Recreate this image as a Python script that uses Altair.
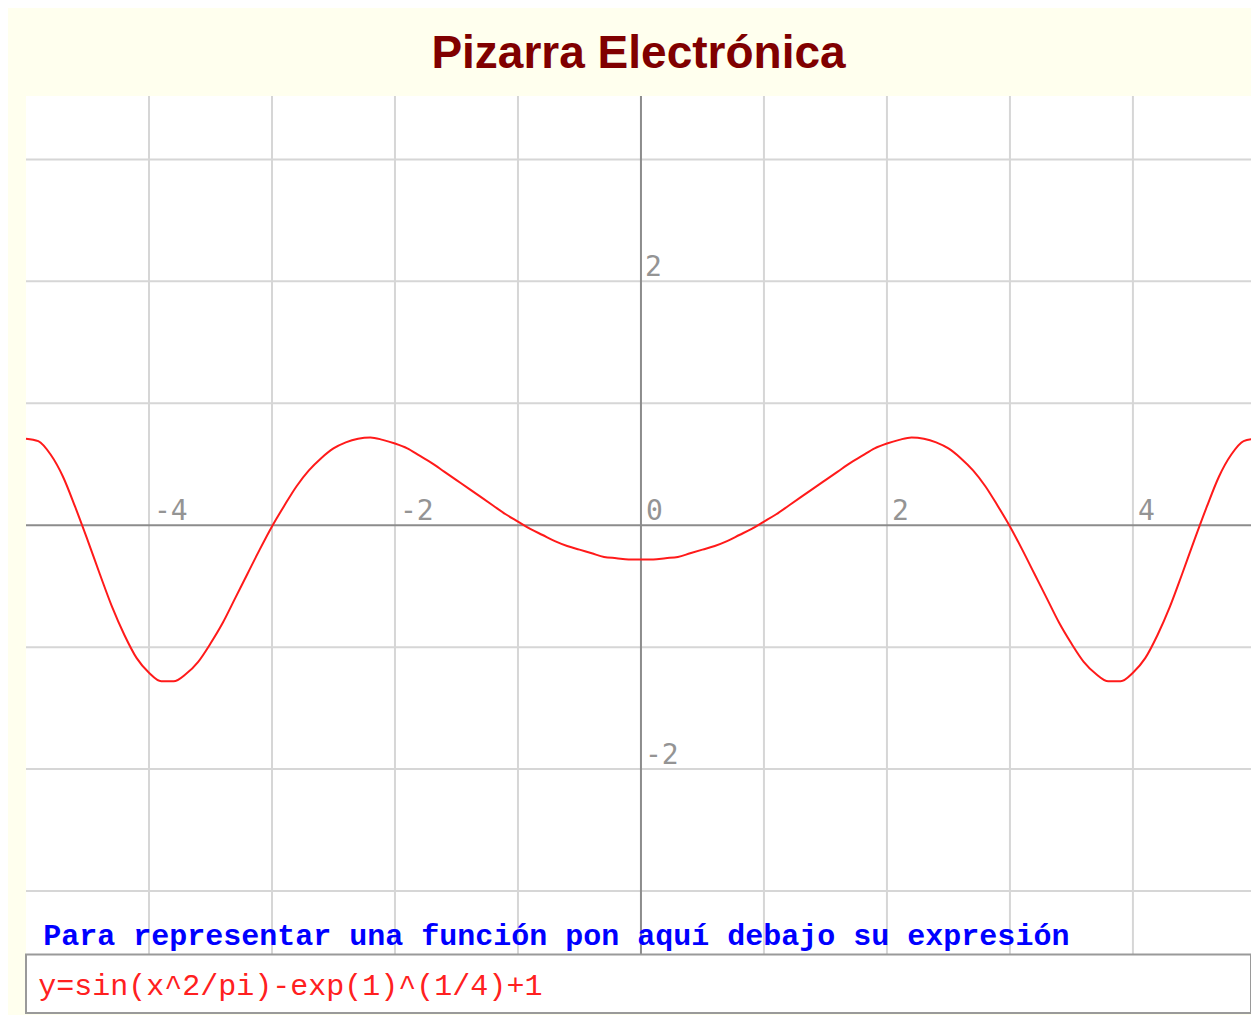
import altair as alt
import pandas as pd

# Curve samples (x from -5 to 5 in steps of 0.1)
x_vals = [-5.0, -4.9, -4.8, -4.7, -4.6, -4.5, -4.4, -4.3, -4.2, -4.1,
          -4.0, -3.9, -3.8, -3.7, -3.6, -3.5, -3.4, -3.3, -3.2, -3.1,
          -3.0, -2.9, -2.8, -2.7, -2.6, -2.5, -2.4, -2.3, -2.2, -2.1,
          -2.0, -1.9, -1.8, -1.7, -1.6, -1.5, -1.4, -1.3, -1.2, -1.1,
          -1.0, -0.9, -0.8, -0.7, -0.6, -0.5, -0.4, -0.3, -0.2, -0.1,
          0.0,
          0.1, 0.2, 0.3, 0.4, 0.5, 0.6, 0.7, 0.8, 0.9, 1.0,
          1.1, 1.2, 1.3, 1.4, 1.5, 1.6, 1.7, 1.8, 1.9, 2.0,
          2.1, 2.2, 2.3, 2.4, 2.5, 2.6, 2.7, 2.8, 2.9, 3.0,
          3.1, 3.2, 3.3, 3.4, 3.5, 3.6, 3.7, 3.8, 3.9, 4.0,
          4.1, 4.2, 4.3, 4.4, 4.5, 4.6, 4.7, 4.8, 4.9, 5.0]
y_vals = [0.71, 0.69, 0.58, 0.40, 0.15, -0.12, -0.40, -0.67, -0.90, -1.09,
          -1.21, -1.28, -1.28, -1.22, -1.12, -0.97, -0.80, -0.60, -0.40, -0.20,
          -0.01, 0.16, 0.32, 0.45, 0.55, 0.63, 0.68, 0.71, 0.72, 0.70,
          0.67, 0.63, 0.57, 0.51, 0.44, 0.37, 0.30, 0.23, 0.16, 0.09,
          0.03, -0.03, -0.08, -0.13, -0.17, -0.20, -0.23, -0.26, -0.27, -0.28,
          -0.28,
          -0.28, -0.27, -0.26, -0.23, -0.20, -0.17, -0.13, -0.08, -0.03, 0.03,
          0.09, 0.16, 0.23, 0.30, 0.37, 0.44, 0.51, 0.57, 0.63, 0.67,
          0.70, 0.72, 0.71, 0.68, 0.63, 0.55, 0.45, 0.32, 0.16, -0.01,
          -0.20, -0.40, -0.60, -0.80, -0.97, -1.12, -1.22, -1.28, -1.28, -1.21,
          -1.09, -0.90, -0.67, -0.40, -0.12, 0.15, 0.40, 0.58, 0.69, 0.71]

x_grid = [-4, -3, -2, -1, 1, 2, 3, 4]
y_grid = [-3, -2, -1, 1, 2, 3]

x_tick_vals = [-4, -2, 0, 2, 4]
x_tick_text = ["-4", "-2", "0", "2", "4"]
y_tick_vals = [2, -2]
y_tick_text = ["2", "-2"]

title_text = "Pizarra Electrónica"
prompt_text = "Para representar una función pon aquí debajo su expresión"
prompt_pos = [-4.86, -3.44]
formula_text = "y=sin(x^2/pi)-exp(1)^(1/4)+1"
formula_pos = [-4.9, -3.78]

X_DOMAIN = [-5, 4.96]
BOARD_Y = [-3.52, 3.52]          # extent of the drawing board
BOX_Y = [-4.0, -3.52]            # extent of the input box below the board
Y_DOMAIN = [BOX_Y[0], BOARD_Y[1]]
W = 1225
H = 917

xs = alt.Scale(domain=X_DOMAIN, nice=False, zero=False)
ys = alt.Scale(domain=Y_DOMAIN, nice=False, zero=False)


def X(field="x"):
    return alt.X(f"{field}:Q", scale=xs, axis=None)


def Y(field="y"):
    return alt.Y(f"{field}:Q", scale=ys, axis=None)


curve_df = pd.DataFrame({"x": x_vals, "y": y_vals})

vgrid = alt.Chart(pd.DataFrame({"x": x_grid, "y": [BOARD_Y[0]] * len(x_grid),
                                "y2": [BOARD_Y[1]] * len(x_grid)})).mark_rule(
    color="#d6d6d6", strokeWidth=2
).encode(x=X(), y=Y(), y2="y2:Q")
hgrid = alt.Chart(pd.DataFrame({"y": y_grid})).mark_rule(
    color="#d6d6d6", strokeWidth=2
).encode(y=Y())

h_axis = alt.Chart(pd.DataFrame({"y": [0]})).mark_rule(
    color="#8c8c8c", strokeWidth=2
).encode(y=Y())
v_axis = alt.Chart(pd.DataFrame({"x": [0], "y": [BOARD_Y[0]], "y2": [BOARD_Y[1]]})).mark_rule(
    color="#8c8c8c", strokeWidth=2
).encode(x=X(), y=Y(), y2="y2:Q")

curve = alt.Chart(curve_df).mark_line(
    color="#ff1a1a", strokeWidth=2, interpolate="monotone"
).encode(x=X(), y=Y())

x_labels = alt.Chart(pd.DataFrame({"x": x_tick_vals, "y": [0] * len(x_tick_vals),
                                   "t": x_tick_text})).mark_text(
    align="left", baseline="alphabetic", dx=5, dy=-5,
    font="DejaVu Sans Mono", fontSize=28, color="#949494"
).encode(x=X(), y=Y(), text="t:N")

y_labels = alt.Chart(pd.DataFrame({"x": [0] * len(y_tick_vals), "y": y_tick_vals,
                                   "t": y_tick_text})).mark_text(
    align="left", baseline="alphabetic", dx=4, dy=-5,
    font="DejaVu Sans Mono", fontSize=28, color="#949494"
).encode(x=X(), y=Y(), text="t:N")

prompt = alt.Chart(pd.DataFrame({"x": [prompt_pos[0]], "y": [prompt_pos[1]],
                                 "t": [prompt_text]})).mark_text(
    align="left", baseline="alphabetic", font="Liberation Mono",
    fontWeight="bold", fontSize=30, color="#0000ff"
).encode(x=X(), y=Y(), text="t:N")

box = alt.Chart(pd.DataFrame({"x": [X_DOMAIN[0]], "x2": [X_DOMAIN[1]],
                              "y": [BOX_Y[0]], "y2": [BOX_Y[1]]})).mark_rect(
    fill="white", stroke="#9a9a9a", strokeWidth=2
).encode(x=X(), x2="x2:Q", y=Y(), y2="y2:Q")

formula = alt.Chart(pd.DataFrame({"x": [formula_pos[0]], "y": [formula_pos[1]],
                                  "t": [formula_text]})).mark_text(
    align="left", baseline="middle", font="Liberation Mono", fontSize=30,
    color="#ff2020"
).encode(x=X(), y=Y(), text="t:N")

chart = alt.layer(
    vgrid, hgrid, h_axis, v_axis, curve, x_labels, y_labels, prompt, box, formula
).properties(
    width=W, height=H,
    title=alt.TitleParams(title_text, font="Liberation Sans", fontSize=46,
                          fontWeight="bold", color="#800000", anchor="middle",
                          offset=17),
    padding={"left": 18, "top": 88, "right": 0, "bottom": 2},
    autosize=alt.AutoSizeParams(type="none"),
    background="#ffffee",
).configure_view(fill="white", stroke=None)

chart.save("out.html", embed_options={"renderer": "svg", "actions": False})
